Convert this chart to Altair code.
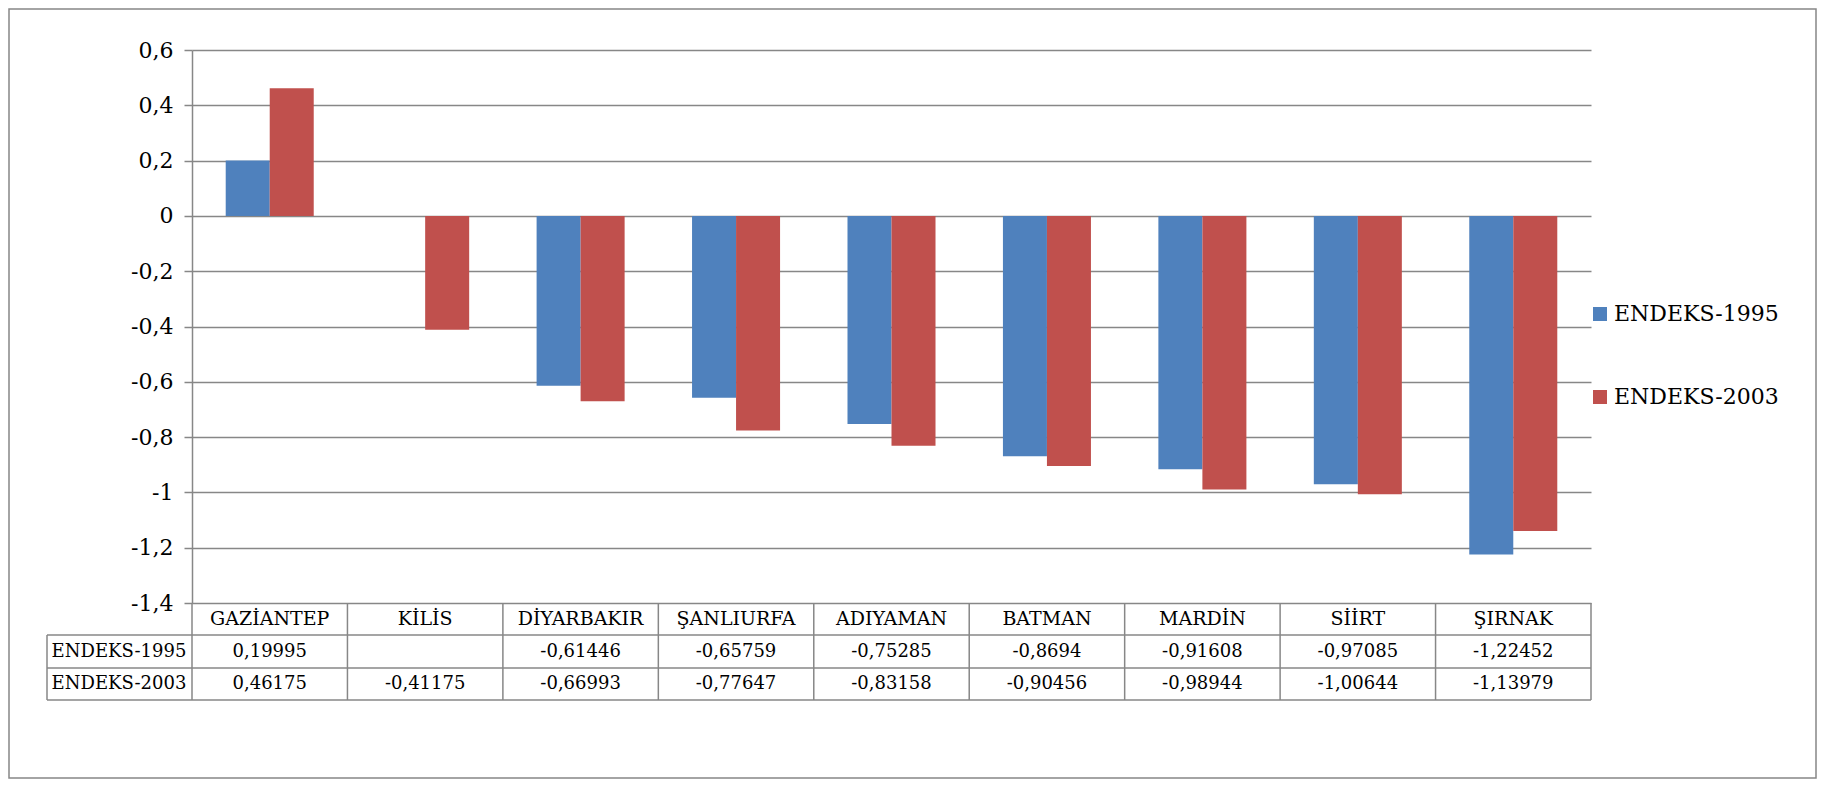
import altair as alt
import pandas as pd

provinces = ["GAZİANTEP", "KİLİS", "DİYARBAKIR", "ŞANLIURFA", "ADIYAMAN",
             "BATMAN", "MARDİN", "SİİRT", "ŞIRNAK"]
endeks_1995 = [0.19995, None, -0.61446, -0.65759, -0.75285, -0.8694,
               -0.91608, -0.97085, -1.22452]
endeks_2003 = [0.46175, -0.41175, -0.66993, -0.77647, -0.83158, -0.90456,
               -0.98944, -1.00644, -1.13979]
series_names = ["ENDEKS-1995", "ENDEKS-2003"]
series_colors = ["#4F81BD", "#C0504D"]
y_ticks = [-1.4, -1.2, -1.0, -0.8, -0.6, -0.4, -0.2, 0.0, 0.2, 0.4, 0.6]

FONT = "DejaVu Serif"
GRAY = "#878787"
W, H = 1399, 553

rows = []
for name, vals in zip(series_names, [endeks_1995, endeks_2003]):
    for p, v in zip(provinces, vals):
        rows.append({
            "province": p,
            "series": name,
            "value": v,
            "label": "" if v is None else str(v).replace(".", ","),
        })
df = pd.DataFrame(rows)
prov_df = pd.DataFrame({"province": provinces})
one = pd.DataFrame({"a": [0]})

x_enc = alt.X("province:N", sort=provinces,
              scale=alt.Scale(domain=provinces, paddingInner=0, paddingOuter=0),
              axis=None)

bars = alt.Chart(df).transform_filter("isValid(datum.value)").mark_bar().encode(
    x=x_enc,
    xOffset=alt.XOffset("series:N", scale=alt.Scale(domain=series_names,
                                                     paddingInner=0, paddingOuter=0.766)),
    y=alt.Y("value:Q", stack=None,
            scale=alt.Scale(domain=[-1.4, 0.6], nice=False, zero=False),
            axis=alt.Axis(values=y_ticks, grid=True, title=None,
                          labelExpr="replace(replace(format(datum.value, '.1~f'), '.', ','), '\u2212', '-')",
                          labelFont=FONT, labelFontSize=22, labelColor="black",
                          labelPadding=11, tickSize=8, tickColor=GRAY, tickWidth=1.5,
                          domainColor=GRAY, domainWidth=1.5,
                          gridColor=GRAY, gridWidth=1.5, gridOpacity=1)),
    y2=alt.datum(0),
    color=alt.Color("series:N", scale=alt.Scale(domain=series_names, range=series_colors),
                    legend=alt.Legend(title=None, orient="none", legendX=1397, legendY=253,
                                      symbolType="square", symbolSize=196,
                                      symbolStrokeWidth=0, symbolOpacity=1,
                                      labelFont=FONT, labelFontSize=22, labelLimit=400,
                                      labelColor="black", labelOffset=3,
                                      rowPadding=61, padding=0)),
)

# table header
header = alt.Chart(prov_df).mark_text(font=FONT, fontSize=19, color="black",
                                      baseline="middle").encode(
    x=x_enc, y=alt.value(569), text="province:N")

row_y = [601.5, 634]
cells = []
for name, yv in zip(series_names, row_y):
    cells.append(
        alt.Chart(df).transform_filter(alt.datum.series == name)
        .mark_text(font=FONT, fontSize=18, color="black", baseline="middle")
        .encode(x=x_enc, y=alt.value(yv), text="label:N")
    )
    cells.append(
        alt.Chart(pd.DataFrame({"series": [name]}))
        .mark_text(font=FONT, fontSize=18, color="black", baseline="middle")
        .encode(x=alt.value(-73), y=alt.value(yv), text="series:N")
    )

# table lines
vlines = alt.Chart(prov_df).mark_rule(color=GRAY, strokeWidth=1.5).encode(
    x=alt.X("province:N", sort=provinces, bandPosition=0,
            scale=alt.Scale(domain=provinces, paddingInner=0, paddingOuter=0), axis=None),
    y=alt.value(H), y2=alt.value(650))
vright = alt.Chart(one).mark_rule(color=GRAY, strokeWidth=1.5).encode(
    x=alt.value(W), y=alt.value(H), y2=alt.value(650))
vleft = alt.Chart(one).mark_rule(color=GRAY, strokeWidth=1.5).encode(
    x=alt.value(-145), y=alt.value(585), y2=alt.value(650))
hlines = [
    alt.Chart(one).mark_rule(color=GRAY, strokeWidth=1.5).encode(
        x=alt.value(-145), x2=alt.value(W), y=alt.value(yv))
    for yv in [585, 618, 650]
]

frame = alt.Chart(one).mark_rect(fill=None, stroke=GRAY, strokeWidth=1.5).encode(
    x=alt.value(-183), x2=alt.value(W + 225), y=alt.value(-41), y2=alt.value(H + 175))

chart = alt.layer(
    frame, bars, header, *cells, vlines, vright, vleft, *hlines
).properties(
    width=W, height=H,
    padding={"left": 184, "top": 42, "right": 226, "bottom": 176},
    autosize=alt.AutoSizeParams(type="none"),
    background="white",
).configure_view(stroke=None)

chart.save("out.html", embed_options={"renderer": "svg", "actions": False})
